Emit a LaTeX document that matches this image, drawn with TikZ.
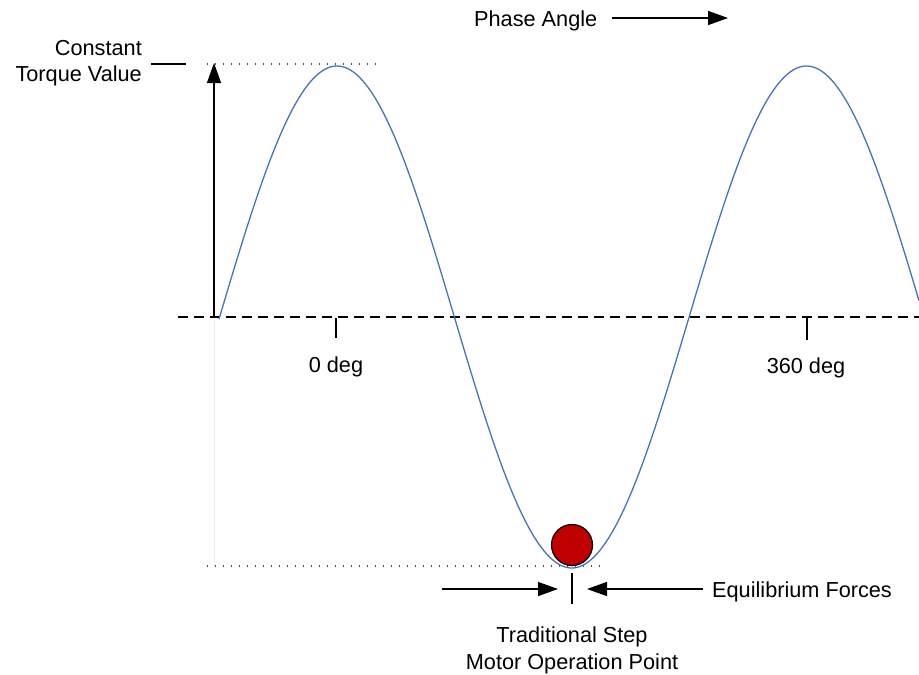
\documentclass[tikz,border=0pt]{standalone}
\usepackage{fontspec}
\setmainfont{Liberation Sans}
\usetikzlibrary{arrows.meta}
\definecolor{wave}{HTML}{4472C4}
\definecolor{ball}{HTML}{C00000}
\begin{document}
\begin{tikzpicture}[x=1pt,y=-1pt,
  lbl/.style={inner sep=0pt,font=\fontsize{21.7}{26.5}\selectfont},
  dotline/.style={black!70,line width=1.4pt,dash pattern=on 1.4pt off 6.6pt},
  zeroline/.style={black,line width=1.4pt,dash pattern=on 10pt off 6pt},
  tickline/.style={black,line width=1.4pt},
  bigarrow/.style={black,line width=1.4pt,-{Triangle[length=20pt,width=14pt]}},
  wavecurve/.style={wave,line width=1.3pt}]
\useasboundingbox (0,0) rectangle (919,675);
% faint guide
\draw[black!8,line width=1pt] (214,318) -- (214,566);
% dotted reference lines
\coordinate (t1) at (207,64); \coordinate (t2) at (382,64);
\coordinate (b1) at (207,566); \coordinate (b2) at (602,566);
\draw[dotline] (t1) -- (t2);
\draw[dotline] (b1) -- (b2);
% zero line
\coordinate (z1) at (178,317); \coordinate (z2) at (919,317);
\draw[zeroline] (z1) -- (z2);
% sine wave
\draw[wavecurve] plot[domain=219:919,samples=240] (\x,{317-251*cos(0.766773*(\x-337))});
% torque arrow
\coordinate (a0) at (214,317); \coordinate (a1) at (214,63);
\draw[bigarrow] (a0) -- (a1);
% constant torque label
\coordinate (c1) at (151,64); \coordinate (c2) at (186,64);
\draw[tickline] (c1) -- (c2);
\node[lbl,anchor=north east,align=right] (ctv) at (142,40) {Constant\\Torque Value};
% phase angle
\node[lbl,anchor=base west] (pa) at (474,26) {Phase Angle};
\coordinate (p1) at (612,18); \coordinate (p2) at (728,18);
\draw[bigarrow] (p1) -- (p2);
% degree ticks
\coordinate (d0a) at (336,318); \coordinate (d0b) at (336,338);
\draw[tickline] (d0a) -- (d0b);
\node[lbl,anchor=base] (d0) at (336,372) {0 deg};
\coordinate (d3a) at (807,318); \coordinate (d3b) at (807,340);
\draw[tickline] (d3a) -- (d3b);
\node[lbl,anchor=base] (d360) at (806,373) {360 deg};
% ball
\node[circle,draw=black,line width=1.2pt,fill=ball,minimum size=41pt,inner sep=0pt] (bl) at (572,545) {};
% operation point
\coordinate (o1) at (572,573); \coordinate (o2) at (572,604);
\draw[tickline] (o1) -- (o2);
\coordinate (l1) at (442,589); \coordinate (l2) at (558,589);
\draw[bigarrow] (l1) -- (l2);
\coordinate (r1) at (703,589); \coordinate (r2) at (587,589);
\draw[bigarrow] (r1) -- (r2);
\node[lbl,anchor=base west] (eq) at (712,597) {Equilibrium Forces};
\node[lbl,anchor=north,align=center] (op) at (572,627) {Traditional Step\\Motor Operation Point};
\end{tikzpicture}
\end{document}
